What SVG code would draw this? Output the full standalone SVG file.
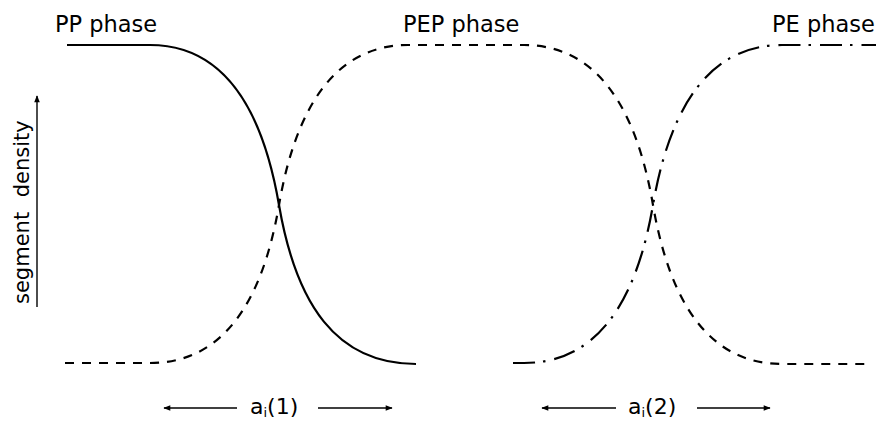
<svg xmlns="http://www.w3.org/2000/svg" width="877" height="422" viewBox="0 0 877 422">
<defs>
<marker id="ah" viewBox="0 0 10 10" refX="9" refY="5" markerWidth="9" markerHeight="7" markerUnits="userSpaceOnUse" orient="auto">
<path d="M0,1 L10,5 L0,9 Z" fill="#000"/>
</marker>
</defs>
<style>
.lbl{font-family:"DejaVu Sans","Liberation Sans",sans-serif;font-size:22.5px;fill:#000}
.blbl{font-family:"DejaVu Sans","Liberation Sans",sans-serif;font-size:22px;fill:#000}
.sub{font-size:13px}
.curve{fill:none;stroke:#000;stroke-width:2.2;stroke-linecap:butt}
.pep{stroke-dasharray:9 8}
.pe{stroke-dasharray:22 8 2.5 9}
.arr{fill:none;stroke:#000;stroke-width:1.4}
</style>
<rect width="877" height="422" fill="#fff"/>
<g id="curves">
<path id="pp-curve" class="curve" d="M67,45 L150,45 C222,45 262,106 279,205 C296,304 336,364 416,364"/>
<path id="pep-curve" class="curve pep" d="M65,363 L150,363 C222,363 262,304 279,205 C296,106 336,45 408,45 L524,45 C596,45 636,106 653,205 C670,304 710,364 782,364 L866,364"/>
<path id="pe-curve" class="curve pe" d="M513,363 L524,363 C596,363 636,304 653,205 C670,106 710,45 782,45 L876,45"/>
</g>
<g id="labels">
<text class="lbl" x="55" y="32">PP phase</text>
<text class="lbl" x="403" y="32">PEP phase</text>
<text class="lbl" x="772" y="32">PE phase</text>
</g>
<g id="axis">
<line class="arr" x1="37" y1="307" x2="37" y2="96" marker-end="url(#ah)"/>
<text class="lbl" style="font-size:21px;word-spacing:8px" transform="translate(29,304) rotate(-90)">segment density</text>
</g>
<g id="connectors">
<line class="arr" x1="237" y1="408" x2="164" y2="408" marker-end="url(#ah)"/>
<line class="arr" x1="318" y1="408" x2="392" y2="408" marker-end="url(#ah)"/>
<line class="arr" x1="616" y1="408" x2="542" y2="408" marker-end="url(#ah)"/>
<line class="arr" x1="697" y1="408" x2="770" y2="408" marker-end="url(#ah)"/>
</g>
<g id="range1">
<text class="blbl" x="250" y="414">a<tspan class="sub" dy="3">i</tspan><tspan dy="-3">(1)</tspan></text>
</g>
<g id="range2">
<text class="blbl" x="628" y="414">a<tspan class="sub" dy="3">i</tspan><tspan dy="-3">(2)</tspan></text>
</g>
</svg>
